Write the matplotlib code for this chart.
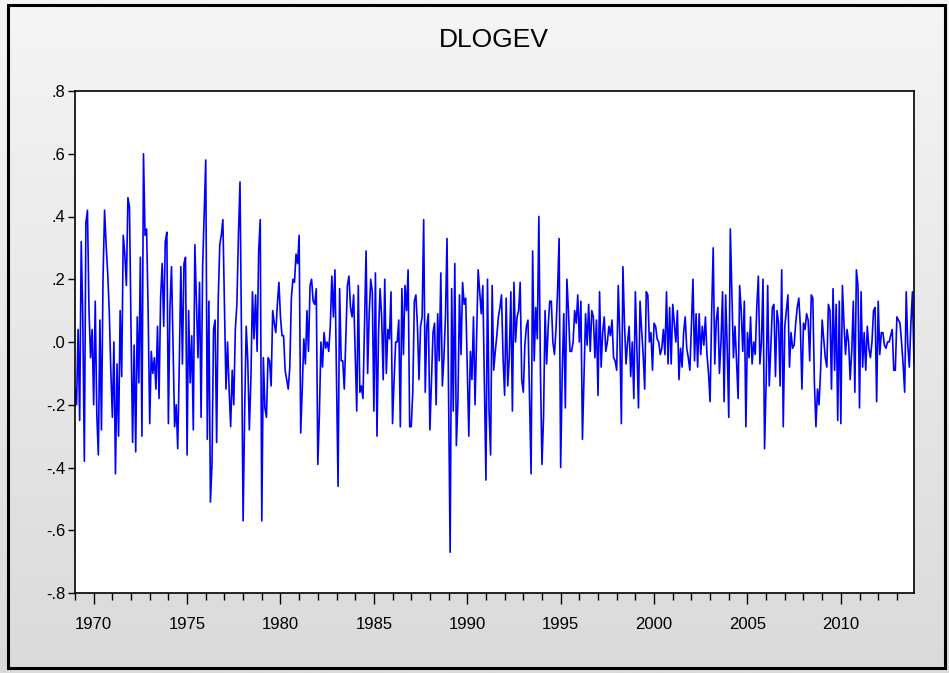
import numpy as np
import matplotlib
matplotlib.use("Agg")
import matplotlib.pyplot as plt
from matplotlib.patches import Rectangle

# Serie mensual DLOGEV, 1969M01 - 2013M12
dlogev_1969_1973 = [
    -0.15, -0.20, 0.04, -0.25, 0.32, 0.08, -0.38, 0.38, 0.42, 0.10,
    -0.05, 0.04, -0.20, 0.13, -0.23, -0.36, 0.07, -0.28, 0.20, 0.42,
    0.31, 0.22, 0.10, -0.09, -0.24, 0.00, -0.42, -0.07, -0.30, 0.10,
    -0.11, 0.34, 0.28, 0.18, 0.46, 0.43, 0.04, -0.32, -0.01, -0.35,
    0.08, -0.13, 0.27, -0.30, 0.60, 0.34, 0.36, 0.09, -0.26, -0.03,
    -0.10, -0.05, -0.15, 0.05,
]
dlogev_1973_1978 = [
    -0.18, 0.14, 0.25, 0.05, 0.32, 0.35, -0.26, 0.11, 0.24, -0.02,
    -0.27, -0.20, -0.34, -0.07, 0.24, -0.07, 0.25, 0.27, -0.36, 0.10,
    -0.13, 0.02, -0.28, 0.31, 0.13, -0.05, 0.19, -0.24, 0.24, 0.41,
    0.58, -0.31, 0.13, -0.51, -0.39, 0.04, 0.07, -0.32, 0.13, 0.31,
    0.34, 0.39, 0.12, -0.15, 0.00, -0.15, -0.27, -0.09, -0.20, 0.04,
    0.12, 0.34, 0.51, 0.00,
]
dlogev_1978_1982 = [
    -0.57, -0.22, 0.05, -0.06, -0.28, -0.12, 0.16, 0.01, 0.15, -0.03,
    0.29, 0.39, -0.57, -0.05, -0.21, -0.24, -0.05, -0.06, -0.14, 0.10,
    0.06, 0.03, 0.12, 0.19, 0.08, 0.02, 0.02, -0.09, -0.12, -0.15,
    -0.08, 0.14, 0.20, 0.19, 0.28, 0.25, 0.34, -0.29, -0.15, 0.01,
    -0.07, 0.10, -0.03, 0.18, 0.20, 0.13, 0.12, 0.17, -0.39, -0.23,
    0.00, -0.08, 0.03, -0.02,
]
dlogev_1982_1987 = [
    0.00, -0.03, 0.05, 0.21, 0.08, 0.23, -0.12, -0.46, 0.17, -0.06,
    -0.06, -0.15, 0.02, 0.18, 0.21, 0.11, 0.08, 0.15, -0.03, -0.22,
    0.18, -0.16, -0.14, -0.18, 0.05, 0.29, -0.10, 0.09, 0.20, 0.16,
    -0.22, 0.22, -0.30, 0.03, 0.17, 0.08, -0.12, 0.20, -0.10, 0.04,
    0.01, 0.16, -0.26, -0.12, 0.00, 0.00, 0.07, -0.27, 0.17, -0.04,
    0.18, 0.10, 0.23, -0.27,
]
dlogev_1987_1991 = [
    -0.27, -0.16, 0.13, 0.15, 0.05, -0.12, 0.05, 0.08, 0.39, -0.16,
    0.05, 0.09, -0.28, -0.12, 0.03, 0.06, -0.20, 0.09, -0.06, 0.22,
    -0.14, -0.05, 0.08, 0.33, -0.17, -0.67, 0.17, -0.22, 0.25, -0.33,
    -0.19, 0.15, -0.04, 0.19, 0.12, 0.14, -0.08, -0.30, -0.03, -0.12,
    0.08, -0.20, 0.01, 0.23, 0.16, 0.09, 0.18, -0.12, -0.44, 0.20,
    -0.22, -0.36, 0.18, -0.09,
]
dlogev_1991_1996 = [
    -0.03, 0.02, 0.08, 0.11, 0.15, -0.05, -0.17, 0.14, -0.14, -0.05,
    0.16, -0.22, 0.19, 0.00, 0.08, 0.10, 0.19, -0.12, -0.16, -0.01,
    0.05, 0.07, -0.18, -0.42, 0.29, -0.06, 0.11, 0.01, 0.40, -0.09,
    -0.39, -0.24, 0.10, -0.07, 0.05, 0.13, 0.13, 0.00, -0.04, 0.04,
    0.16, 0.33, -0.40, -0.10, 0.09, -0.21, 0.20, 0.10, -0.03, -0.03,
    0.00, 0.10, 0.06, 0.15,
]
dlogev_1996_2000 = [
    0.00, 0.13, -0.31, -0.11, 0.09, -0.01, 0.12, -0.03, 0.10, 0.08,
    -0.05, 0.07, -0.17, 0.16, -0.08, 0.03, 0.08, -0.03, 0.00, 0.05,
    0.02, 0.07, -0.05, -0.06, -0.09, 0.18, 0.02, -0.26, 0.24, 0.06,
    -0.07, 0.00, 0.05, -0.11, 0.00, -0.18, 0.16, -0.02, -0.21, 0.13,
    0.04, -0.04, -0.15, 0.16, 0.15, 0.00, 0.03, -0.09, 0.06, 0.05,
    0.01, 0.00, -0.04, -0.02,
]
dlogev_2000_2005 = [
    0.04, -0.04, 0.16, -0.07, 0.11, -0.07, 0.12, 0.06, 0.00, 0.10,
    -0.12, -0.02, -0.08, 0.03, 0.08, -0.02, -0.05, -0.09, 0.05, 0.20,
    -0.06, 0.09, -0.08, 0.09, -0.04, 0.05, -0.01, 0.08, -0.04, -0.10,
    -0.19, 0.09, 0.30, -0.07, 0.07, 0.11, -0.10, 0.00, 0.16, -0.19,
    0.15, -0.02, -0.24, 0.36, 0.16, -0.05, 0.05, -0.06, -0.18, 0.18,
    0.10, -0.03, 0.13, -0.27,
]
dlogev_2005_2009 = [
    0.03, -0.05, 0.08, -0.07, 0.00, -0.04, 0.11, 0.21, -0.07, 0.00,
    0.20, -0.34, -0.13, 0.18, -0.14, -0.02, 0.11, 0.12, -0.11, 0.10,
    0.06, -0.14, 0.23, -0.27, 0.05, 0.10, 0.15, -0.08, 0.03, -0.02,
    -0.01, 0.06, 0.11, 0.14, 0.05, -0.15, 0.06, 0.04, 0.09, 0.07,
    -0.06, 0.15, 0.14, -0.13, -0.27, -0.15, -0.20, -0.09, 0.07, 0.01,
    -0.05, -0.08, 0.12, 0.10,
]
dlogev_2009_2013 = [
    -0.15, 0.17, -0.09, 0.12, -0.25, 0.13, -0.26, 0.18, 0.06, -0.04,
    0.04, 0.00, -0.12, -0.03, 0.13, -0.16, 0.23, 0.18, -0.21, 0.16,
    -0.08, 0.03, -0.09, 0.05, -0.02, -0.05, 0.00, 0.10, 0.11, -0.19,
    0.13, -0.04, 0.03, 0.03, -0.01, -0.02, 0.00, 0.00, 0.02, 0.04,
    -0.09, -0.09, 0.08, 0.07, 0.06, 0.00, -0.07, -0.16, 0.16, -0.01,
    -0.08, 0.06, 0.16, -0.07,
]

dlogev = (dlogev_1969_1973 + dlogev_1973_1978 + dlogev_1978_1982 + dlogev_1982_1987
          + dlogev_1987_1991 + dlogev_1991_1996 + dlogev_1996_2000 + dlogev_2000_2005
          + dlogev_2005_2009 + dlogev_2009_2013)
anio_inicio = 1969
fechas = anio_inicio + np.arange(len(dlogev)) / 12.0

y_ticks = [-0.8, -0.6, -0.4, -0.2, 0.0, 0.2, 0.4, 0.6, 0.8]
x_major = [1970, 1975, 1980, 1985, 1990, 1995, 2000, 2005, 2010]
x_minor = list(range(1969, 2014))


def etiqueta_eviews(v):
    # estilo EViews: ".8", "-.2", ".0"
    s = f"{v:.1f}"
    return s.replace("0.", ".")


fig = plt.figure(figsize=(9.49, 6.73), dpi=100)

# Fondo degradado gris
fondo = fig.add_axes([0, 0, 1, 1], zorder=-10)
grad = np.linspace(0, 1, 256).reshape(-1, 1)
fondo.imshow(grad, aspect="auto", cmap=matplotlib.colors.LinearSegmentedColormap.from_list(
    "g", ["#f5f5f5", "#dadada"]), extent=[0, 1, 0, 1], origin="upper")
fondo.set_xlim(0, 1)
fondo.set_ylim(0, 1)
fondo.axis("off")
fondo.add_patch(Rectangle((8 / 949, 5 / 673), 937 / 949, 663 / 673,
                          fill=False, edgecolor="black", linewidth=2.2,
                          transform=fondo.transAxes))

ax = fig.add_axes([75 / 949, 80 / 673, 839 / 949, 502 / 673])
ax.plot(fechas, dlogev, color="#0000ff", linewidth=1.2)

ax.set_xlim(fechas[0], fechas[-1])
ax.set_ylim(-0.8, 0.8)
ax.set_yticks(y_ticks)
ax.set_yticklabels([etiqueta_eviews(v) for v in y_ticks])
ax.set_xticks(x_major)
ax.set_xticklabels([str(a) for a in x_major])
ax.set_xticks(x_minor, minor=True)

ax.tick_params(axis="y", which="major", direction="out", length=5, width=1,
               pad=2, labelsize=12, colors="black")
ax.tick_params(axis="x", which="major", direction="out", length=8, width=1,
               pad=9, labelsize=12, colors="black")
ax.tick_params(axis="x", which="minor", direction="out", length=5, width=1)
for lado in ax.spines.values():
    lado.set_linewidth(1.2)
ax.set_facecolor("white")

for t in ax.get_xticklabels() + ax.get_yticklabels():
    t.set_fontfamily("Liberation Sans")

fig.text(494 / 949, 1 - 40 / 673, "DLOGEV", ha="center", va="center",
         fontsize=19, fontfamily="Liberation Sans")

fig.savefig("out.png", dpi=100)
